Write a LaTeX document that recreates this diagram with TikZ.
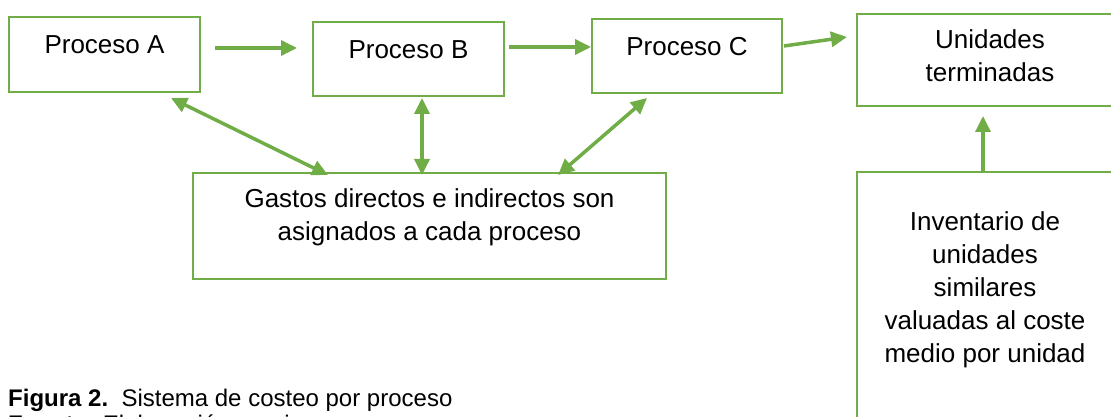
\documentclass[tikz,border=0pt]{standalone}
\usepackage{fontspec}
\setmainfont{Liberation Sans}
\usetikzlibrary{arrows.meta}
\definecolor{grn}{HTML}{70AD47}
\begin{document}
\begin{tikzpicture}[x=1pt,y=-1pt,
  box/.style={draw=grn, line width=2pt, rectangle, inner sep=0pt},
  lbl/.style={font=\fontsize{26}{33}\selectfont, align=center, inner sep=0pt, anchor=base},
  mytip/.tip={Triangle[length=16pt,width=15pt]},
  arr/.style={draw=grn, line width=3.5pt, -mytip},
  darr/.style={draw=grn, line width=3.5pt, mytip-mytip},
  captxt/.style={font=\fontsize{24}{28}\selectfont, anchor=base west, inner sep=0pt}]
\useasboundingbox (0,0) rectangle (1111,417);
% boxes
\node[box, minimum width=191pt, minimum height=75pt] (A) at (104.5,54.5) {};
\node[box, minimum width=191pt, minimum height=74pt] (B) at (408.5,59) {};
\node[box, minimum width=190pt, minimum height=74pt] (C) at (687,56) {};
\node[box, minimum width=266pt, minimum height=92pt] (U) at (990,60) {};
\node[box, minimum width=256pt, minimum height=268pt] (I) at (985,306) {};
\node[box, minimum width=473pt, minimum height=106pt] (G) at (429.5,226) {};
% labels (base anchor = baseline of the last line)
\node[lbl] (At) at (104.5,54) {Proceso A};
\node[lbl] (Bt) at (408.5,58.7) {Proceso B};
\node[lbl] (Ct) at (687,55.7) {Proceso C};
\node[lbl] (Ut) at (990,82) {Unidades\\terminadas};
\node[lbl] (Gt) at (429.5,240) {Gastos directos e indirectos son\\asignados a cada proceso};
\node[lbl] (It) at (985,362) {Inventario de\\unidades\\similares\\valuadas al coste\\medio por unidad};
% connectors
\draw[arr] ([shift={(14,-6.5)}]A.east) -- ([shift={(-15,-11)}]B.west);
\draw[arr] ([shift={(4,-12)}]B.east) -- ([shift={(0,-9)}]C.west);
\draw[arr] ([shift={(1,-10)}]C.east) -- ([shift={(-9,-23)}]U.west);
\draw[darr] ([shift={(66.5,5)}]A.south) -- ([shift={(-101.5,3)}]G.north);
\draw[darr] ([shift={(13.5,1)}]B.south) -- ([shift={(-7.5,3)}]G.north);
\draw[darr] ([shift={(-40,4)}]C.south) -- ([shift={(128.5,3)}]G.north);
\draw[arr] ([shift={(-2,0)}]I.north) -- ([shift={(-7,9)}]U.south);
% caption
\node[captxt] (cp) at (8,406) {\textbf{Figura 2.}\ \ Sistema de costeo por proceso};
\node[captxt] (src) at (8,432.5) {\textbf{Fuente:}\hspace{8pt}Elaboración propia};
\end{tikzpicture}
\end{document}
